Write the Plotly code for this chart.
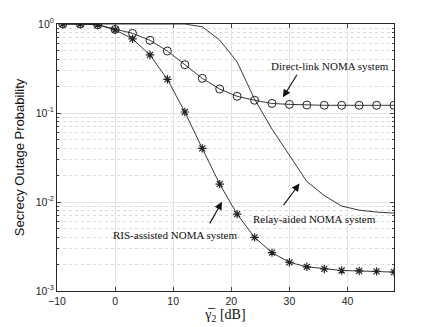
import plotly.graph_objects as go

# SNR grid (dB)
snr = [-9, -6, -3, 0, 3, 6, 9, 12, 15, 18, 21, 24, 27, 30, 33, 36, 39, 42, 45, 48]

# secrecy outage probability
ris = [1.0, 1.0, 0.98, 0.86, 0.68, 0.449, 0.239, 0.1026, 0.040, 0.0159, 0.0073,
       0.0040, 0.0027, 0.0021, 0.00187, 0.00177, 0.0017, 0.00168, 0.00166, 0.00163]
direct = [1.0, 1.0, 0.98, 0.87, 0.785, 0.656, 0.497, 0.349, 0.245, 0.186, 0.154,
          0.139, 0.128, 0.125, 0.123, 0.122, 0.122, 0.122, 0.122, 0.122]
relay = [1.0, 1.0, 1.0, 1.0, 1.0, 1.0, 1.0, 1.0, 0.93, 0.66, 0.375,
         0.143, 0.066, 0.033, 0.017, 0.0118, 0.009, 0.0081, 0.0077, 0.0075]

xticks = [-10, 0, 10, 20, 30, 40]
yticks = [1e-3, 1e-2, 1e-1, 1]
yticklabels = ["10<sup>-3</sup>", "10<sup>-2</sup>", "10<sup>-1</sup>", "10<sup>0</sup>"]

line_col = "#222222"
axis_col = "#262626"

fig = go.Figure()
fig.add_trace(go.Scatter(x=snr, y=relay, mode="lines",
                         line=dict(color=line_col, width=0.9), name="Relay"))
fig.add_trace(go.Scatter(x=snr, y=direct, mode="lines+markers",
                         line=dict(color=line_col, width=0.9),
                         marker=dict(symbol="circle-open", size=8,
                                     line=dict(color=line_col, width=1)),
                         name="Direct"))
fig.add_trace(go.Scatter(x=snr, y=ris, mode="lines+markers",
                         line=dict(color=line_col, width=0.9),
                         marker=dict(symbol="asterisk-open", size=7,
                                     line=dict(color=line_col, width=1.2)),
                         name="RIS"))

# label, arrow tail (x, log10 y), head offset from tail (px), text centre (x, log10 y)
notes = [
    ("Direct-link NOMA system", 31.3, -0.571, -15, 24, 36.9, -0.477),
    ("Relay-aided NOMA system", 29.0, -2.035, 17, -23, 34.4, -2.19),
    ("RIS-assisted NOMA system", 16.3, -2.24, 13, -23, 10.4, -2.37),
]
for txt, tx0, ty0, hx, hy, tx, ty in notes:
    fig.add_annotation(x=tx0, y=ty0, ax=hx, ay=hy, text="", showarrow=True,
                       arrowside="start", startarrowhead=2, startarrowsize=1.4,
                       arrowwidth=1.1, arrowcolor="#111111",
                       standoff=0, startstandoff=0)
    fig.add_annotation(x=tx, y=ty, text=txt, showarrow=False,
                       font=dict(family="Liberation Serif", size=11, color="#111"))

fig.update_layout(
    width=436, height=327,
    margin=dict(l=57, r=42, t=24, b=36),
    paper_bgcolor="white", plot_bgcolor="white",
    showlegend=False,
    font=dict(family="Liberation Sans", size=10, color=axis_col),
)
fig.update_xaxes(
    range=[-10, 48], tickvals=xticks, ticks="inside", ticklen=4,
    showline=True, linecolor=axis_col, linewidth=1, mirror="ticks",
    showgrid=True, gridcolor="#e3e3e3", gridwidth=1, zeroline=False,
    tickfont=dict(size=10.5), automargin=False,
    title=dict(text="γ\u0305<sub>2</sub> [dB]", standoff=2,
               font=dict(family="Liberation Serif", size=14, color="#111")),
)
fig.update_yaxes(
    type="log", range=[-3, 0], tickvals=yticks, ticktext=yticklabels,
    ticks="inside", ticklen=4,
    showline=True, linecolor=axis_col, linewidth=1, mirror="ticks",
    showgrid=True, gridcolor="#e3e3e3", gridwidth=1, zeroline=False,
    minor=dict(ticks="inside", ticklen=2, dtick="D1", showgrid=True,
               gridcolor="#dadada", griddash="dot", gridwidth=1),
    tickfont=dict(size=10.5), automargin=False,
    title=dict(text="Secrecy Outage Probability", standoff=8,
               font=dict(family="Liberation Sans", size=13, color="#111")),
)

fig.write_html("out.html", config={"displayModeBar": False},
               post_script="document.body.style.margin='0';")
